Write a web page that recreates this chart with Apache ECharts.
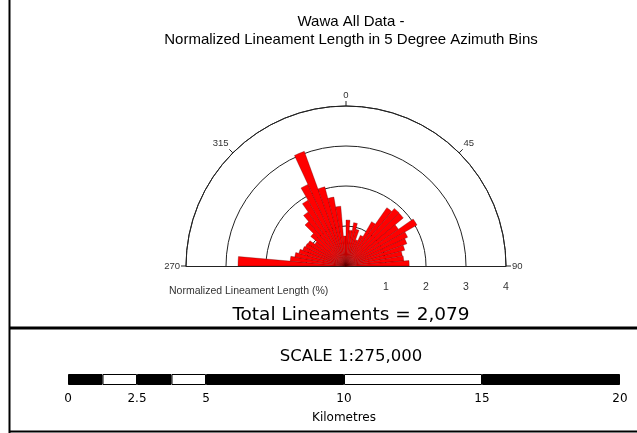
<!DOCTYPE html>
<html>
<head>
<meta charset="utf-8">
<script src="https://cdn.jsdelivr.net/npm/echarts@6/dist/echarts.min.js"></script>
<style>
html,body{margin:0;padding:0;background:#fff;}
#chart{width:637px;height:433px;}
</style>
</head>
<body>
<div id="chart"></div>
<script>
// Azimuth bins (start of each 5 degree bin), from 270 through 0 to 85
const binStarts = [270,275,280,285,290,295,300,305,310,315,320,325,330,335,340,345,350,355,
                   0,5,10,15,20,25,30,35,40,45,50,55,60,65,70,75,80,85];
// Normalized lineament length (%) per bin
const lengthPct = [2.7,1.4,1.3,1.22,1.15,1.12,1.1,0.95,1.15,1.45,1.65,1.9,2.25,3.05,2.05,1.75,1.5,0.75,
                   1.15,0.9,1.1,0.95,0.7,0.85,1.28,1.78,1.88,1.87,1.6,2.05,1.7,1.62,1.52,1.43,1.45,1.58];
// Radial ring values and angle tick labels
const radialTicks = [1,2,3,4];
const angleTicks = [-90,-45,0,45,90];
// Scale bar segments (km)
const scaleSegLengths = [1.25,1.25,1.25,1.25,5,5,5];
const scaleSegColors = ['#000','#fff','#000','#fff','#000','#fff','#000'];
const scaleLabels = [0,2.5,5,10,15,20];

const cx = 346, cy = 266, R = 160;
const chart = echarts.init(document.getElementById('chart'));

const axisFont = {fontFamily:'Liberation Sans, Arial', fontSize:9.5, color:'#333'};

const option = {
  animation:false,
  backgroundColor:'#fff',
  title:[
    {text:'Wawa All Data -\nNormalized Lineament Length in 5 Degree Azimuth Bins',
     left:cx, top:8, textAlign:'center',
     textStyle:{fontFamily:'Liberation Sans, Arial', fontWeight:'normal', fontSize:15, lineHeight:18, color:'#000'}},
    {text:'Normalized Lineament Length (%)', left:164, top:281,
     textStyle:{fontFamily:'Liberation Sans, Arial', fontWeight:'normal', fontSize:10.5, color:'#333'}},
    {text:'Total Lineaments = 2,079', left:cx, top:301, textAlign:'center',
     textStyle:{fontFamily:'DejaVu Sans', fontWeight:'normal', fontSize:18.5, color:'#000'}},
    {text:'SCALE 1:275,000', left:cx, top:343, textAlign:'center',
     textStyle:{fontFamily:'DejaVu Sans', fontWeight:'normal', fontSize:16.5, color:'#000'}}
  ],
  polar:[
    {center:[cx,cy], radius:R},
    {center:[cx,cy], radius:R},
    {center:[cx,cy], radius:R}
  ],
  angleAxis:[
    {polarIndex:0, type:'value', min:-90, max:90, interval:45, startAngle:180, endAngle:0, clockwise:true,
     axisLine:{show:true, lineStyle:{color:'#222', width:1}},
     axisTick:{show:true, length:5, lineStyle:{color:'#222'}},
     axisLabel:Object.assign({show:true, margin:6,
       formatter:v=>String(v<0?v+360:v)}, axisFont),
     splitLine:{show:false}},
    {polarIndex:1, type:'category', data:binStarts.map(String), startAngle:180, endAngle:0, clockwise:true,
     axisLine:{show:false}, axisTick:{show:false}, axisLabel:{show:false}, splitLine:{show:false}},
    {polarIndex:2, type:'value', min:0, max:180, startAngle:0, endAngle:180, clockwise:false,
     axisLine:{show:false}, axisTick:{show:false}, axisLabel:{show:false}, splitLine:{show:false}}
  ],
  radiusAxis:[
    {polarIndex:0, type:'value', min:0, max:4, interval:1,
     axisLine:{show:true, lineStyle:{color:'#222', width:1}},
     axisTick:{show:false}, axisLabel:{show:false},
     splitLine:{show:true, lineStyle:{color:'#222', width:1}}},
    {polarIndex:1, type:'value', min:0, max:4,
     axisLine:{show:false}, axisTick:{show:false}, axisLabel:{show:false}, splitLine:{show:false}},
    {polarIndex:2, type:'value', min:0, max:4, interval:1,
     axisLine:{show:true, lineStyle:{color:'#222', width:1}},
     axisTick:{show:false},
     axisLabel:Object.assign({show:true, margin:-27, formatter:v=>radialTicks.indexOf(v)>=0?String(v):''}, axisFont, {fontSize:10.5}),
     splitLine:{show:false}}
  ],
  grid:{left:68, right:17, top:374, height:11},
  xAxis:{type:'value', min:0, max:20, gridIndex:0,
    axisLine:{show:false}, axisTick:{show:false}, splitLine:{show:false},
    axisLabel:{show:true, customValues:scaleLabels, margin:8, fontFamily:'DejaVu Sans', fontSize:12, color:'#000'},
    name:'Kilometres', nameLocation:'middle', nameGap:27,
    nameTextStyle:{fontFamily:'DejaVu Sans', fontSize:12, color:'#000'}},
  yAxis:{type:'category', data:['scale'], show:false},
  series:[
    {type:'bar', coordinateSystem:'polar', polarIndex:1, data:lengthPct, barCategoryGap:'0%', z:5,
     itemStyle:{color:'#ff0000', borderColor:'rgba(80,0,0,0.6)', borderWidth:0.5}}
  ].concat(scaleSegLengths.map((len,i)=>({
     type:'bar', xAxisIndex:0, yAxisIndex:0, stack:'scale', data:[len], barWidth:'100%',
     itemStyle:{color:scaleSegColors[i], borderColor:'#000', borderWidth:1}}))),
  graphic:[
    {type:'line', shape:{x1:9.5,y1:0,x2:9.5,y2:433}, style:{stroke:'#000', lineWidth:2}},
    {type:'line', shape:{x1:9,y1:328,x2:637,y2:328}, style:{stroke:'#000', lineWidth:3}},
    {type:'line', shape:{x1:9,y1:431.5,x2:637,y2:431.5}, style:{stroke:'#000', lineWidth:2}}
  ]
};
chart.setOption(option);
</script>
</body>
</html>
